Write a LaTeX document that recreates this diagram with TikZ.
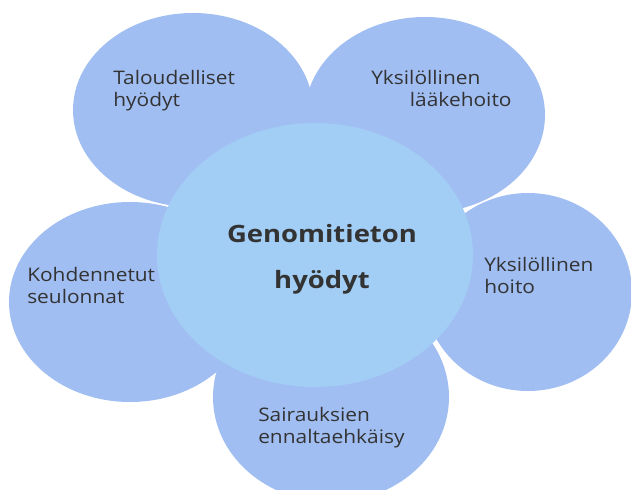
\documentclass[tikz,border=0pt]{standalone}
\usepackage{fontspec}
\setmainfont{Open Sans}[FakeStretch=1.12]
\newfontfamily\corefont{Open Sans}[FakeStretch=1.15]
\usetikzlibrary{shapes.geometric}
\definecolor{petal}{HTML}{A0BEF2}
\definecolor{core}{HTML}{A2CDF5}
\definecolor{ink}{HTML}{333333}

\begin{document}
\begin{tikzpicture}[x=0.75pt, y=-0.75pt,
        petal/.style={ellipse, fill=petal, draw=none, inner sep=0pt},
        txt/.style={anchor=base west, align=left, inner sep=0pt, text=ink,
            font=\fontsize{14}{16.5}\selectfont}]
        \clip (0,0) rectangle (631,489);
        % petals
        \node (talous) [petal, minimum width=180pt, minimum height=145.5pt] at (193,110) {};
        \node (laake) [petal, minimum width=180pt, minimum height=147pt] at (425,115) {};
        \node (hoito) [petal, minimum width=156pt, minimum height=148.5pt] at (528,292) {};
        \node (ennalta) [petal, minimum width=177pt, minimum height=157.5pt] at (331,397) {};
        \node (seulonta) [petal, minimum width=181.5pt, minimum height=150pt] at (130,302) {};
        % centre
        \node (genomi) [ellipse, fill=core, inner sep=0pt, minimum width=237pt, minimum height=198pt] at (315,255) {};
        
        % labels, placed at the baseline of their last line
        \node (talousT) [txt] at (113,106) {Taloudelliset\\hyödyt};
        \node (laakeT) [txt] at (371,106) {Yksilöllinen\\\hspace*{29pt}lääkehoito};
        \node (hoitoT) [txt] at (484,293) {Yksilöllinen\\hoito};
        \node (ennaltaT) [txt] at (258,443) {Sairauksien\\ennaltaehkäisy};
        \node (seulontaT) [txt] at (27,303) {Kohdennetut\\seulonnat};
        \node (genomiT) [anchor=base, align=center, inner sep=0pt, text=ink,
            font=\corefont\bfseries\fontsize{17.9}{34.5}\selectfont] at (322,288) {Genomitieton\\hyödyt};
    \end{tikzpicture}
\end{document}
